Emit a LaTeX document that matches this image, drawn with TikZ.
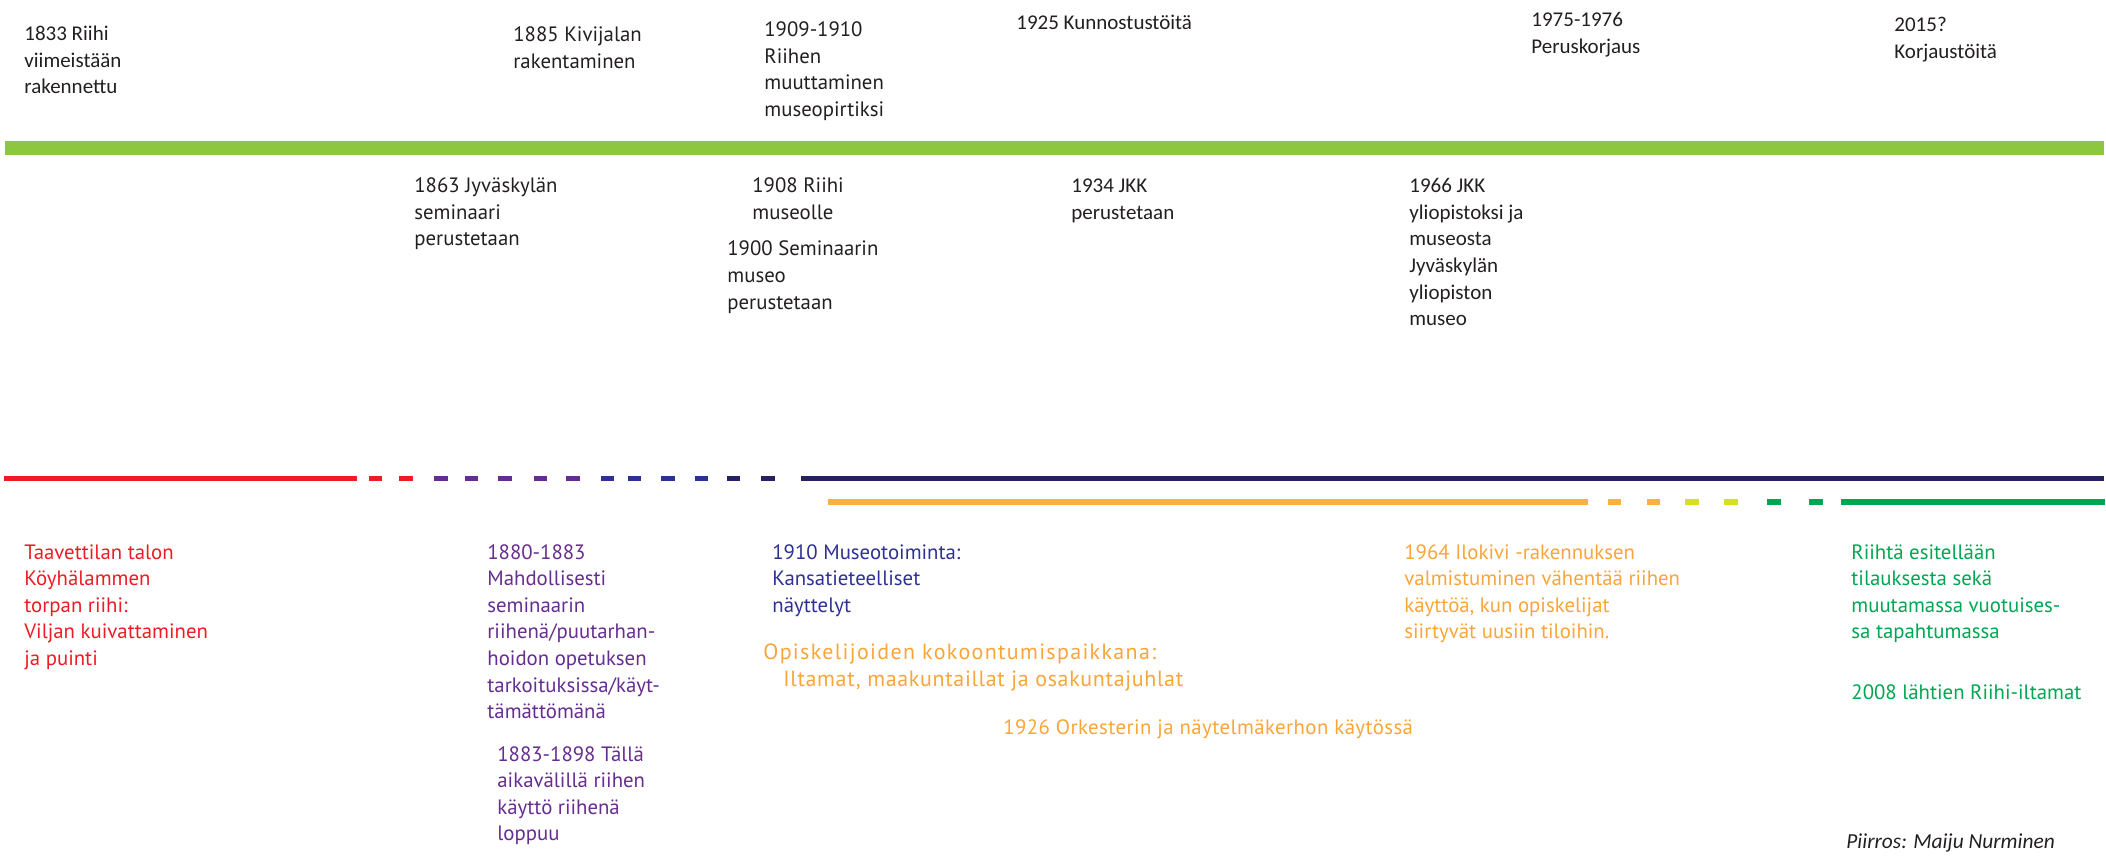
\documentclass[tikz,border=0pt]{standalone}
\usepackage{fontspec}
\setmainfont{PT Sans}
\newfontfamily\gillfont{Carlito}
\definecolor{ink}{HTML}{231F20}
\definecolor{barGreen}{HTML}{8DC63F}
\definecolor{cRed}{HTML}{ED1C24}
\definecolor{cPurple}{HTML}{662D91}
\definecolor{cBlue}{HTML}{2E3192}
\definecolor{cNavy}{HTML}{262262}
\definecolor{cOrange}{HTML}{FBB040}
\definecolor{cOrangeT}{HTML}{F9A53A}
\definecolor{cYellow}{HTML}{D7DF23}
\definecolor{cGreen}{HTML}{00A651}
\begin{document}
% node positions: (left x, baseline of the LAST line), in pixels
\begin{tikzpicture}[x=0.5pt,y=-0.5pt,
  myr/.style={anchor=base west, align=left, inner sep=0pt,
    font=\fontsize{10.4}{13.3}\selectfont, text=ink},
  gill/.style={anchor=base west, align=left, inner sep=0pt,
    font=\gillfont\fontsize{10.5}{13.3}\selectfont, text=ink},
  lineA/.style={line width=2.5pt},
  lineB/.style={line width=3pt}]
\useasboundingbox (0,0) rectangle (2106,856);

% top green bar
\draw[barGreen, line width=7pt] (5,148) -- (2104,148);

% lower line 1
\draw[cRed, lineA] (4,478) -- (357,478);
\foreach \a/\b/\c in {369/382/cRed, 399/413/cRed,
  434/448/cPurple, 465/478/cPurple, 498/512/cPurple, 534/547/cPurple, 566/580/cPurple,
  601/614/cBlue, 628/641/cBlue, 661/675/cBlue, 695/708/cBlue,
  727/740/cNavy, 761/775/cNavy}
  \draw[\c, lineA] (\a,478) -- (\b,478);
\draw[cNavy, lineA] (801,478) -- (2104,478);

% lower line 2
\draw[cOrange, lineB] (828,502) -- (1588,502);
\foreach \a/\b/\c in {1608/1621/cOrange, 1647/1660/cOrange,
  1685/1699/cYellow, 1724/1738/cYellow,
  1767/1781/cGreen, 1809/1823/cGreen}
  \draw[\c, lineB] (\a,502) -- (\b,502);
\draw[cGreen, lineB] (1841,502) -- (2105,502);

% top texts
\node[gill] (g1833) at (24,94) {1833 Riihi\\viimeistään\\rakennettu};
\node[myr] (m1885) at (513,68.3) {1885 Kivijalan\\rakentaminen};
\node[myr] (m1909) at (764,116.5) {1909-1910\\Riihen\\muuttaminen\\museopirtiksi};
\node[gill] (g1925) at (1016,29.3) {1925 Kunnostustöitä};
\node[gill] (g1975) at (1531,53.3) {1975-1976\\Peruskorjaus};
\node[gill] (g2015) at (1894,58.3) {2015?\\Korjaustöitä};

% texts below green bar
\node[myr] (m1863) at (414,245.9) {1863 Jyväskylän\\seminaari\\perustetaan};
\node[myr] (m1908) at (752,219.3) {1908 Riihi\\museolle};
\node[myr] (m1900) at (727,309.2) {1900 Seminaarin\\museo\\perustetaan};
\node[gill] (g1934) at (1071,219.3) {1934 JKK\\perustetaan};
\node[gill] (g1966) at (1409,325.7) {1966 JKK\\yliopistoksi ja\\museosta\\Jyväskylän\\yliopiston\\museo};

% bottom texts
\node[myr, text=cRed] (tRed) at (24,665.4) {Taavettilan talon\\Köyhälammen\\torpan riihi:\\Viljan kuivattaminen\\ja puinti};
\node[myr, text=cPurple] (tPur1) at (487,718.6) {1880-1883\\Mahdollisesti\\seminaarin\\riihenä/puutarhan-\\hoidon opetuksen\\tarkoituksissa/käyt-\\tämättömänä};
\node[myr, text=cPurple] (tPur2) at (497,840.8) {1883-1898 Tällä\\aikavälillä riihen\\käyttö riihenä\\loppuu};
\node[myr, text=cBlue] (tBlue) at (772,612.2) {1910 Museotoiminta:\\Kansatieteelliset\\näyttelyt};
\node[myr, text=cOrangeT, font=\fontsize{11}{13.3}\selectfont] (tOr1) at (763,686) {{\addfontfeature{LetterSpace=6}Opiskelijoiden kokoontumispaikkana:}\\\hspace*{10pt}{\addfontfeature{LetterSpace=3}Iltamat, maakuntaillat ja osakuntajuhlat}};
\node[myr, text=cOrangeT] (tOr2) at (1003,734) {{\addfontfeature{LetterSpace=2}1926 Orkesterin ja näytelmäkerhon käytössä}};
\node[myr, text=cOrangeT] (tOr3) at (1404,638.8) {1964 Ilokivi -rakennuksen\\valmistuminen vähentää riihen\\käyttöä, kun opiskelijat\\siirtyvät uusiin tiloihin.};
\node[myr, text=cGreen] (tGr1) at (1851,638.8) {Riihtä esitellään\\tilauksesta sekä\\muutamassa vuotuises-\\sa tapahtumassa};
\node[myr, text=cGreen] (tGr2) at (1851,699) {2008 lähtien Riihi-iltamat};

\node[gill, font=\gillfont\itshape\fontsize{10.7}{13.3}\selectfont] (credit) at (1846,848) {Piirros: Maiju Nurminen};
\end{tikzpicture}
\end{document}
